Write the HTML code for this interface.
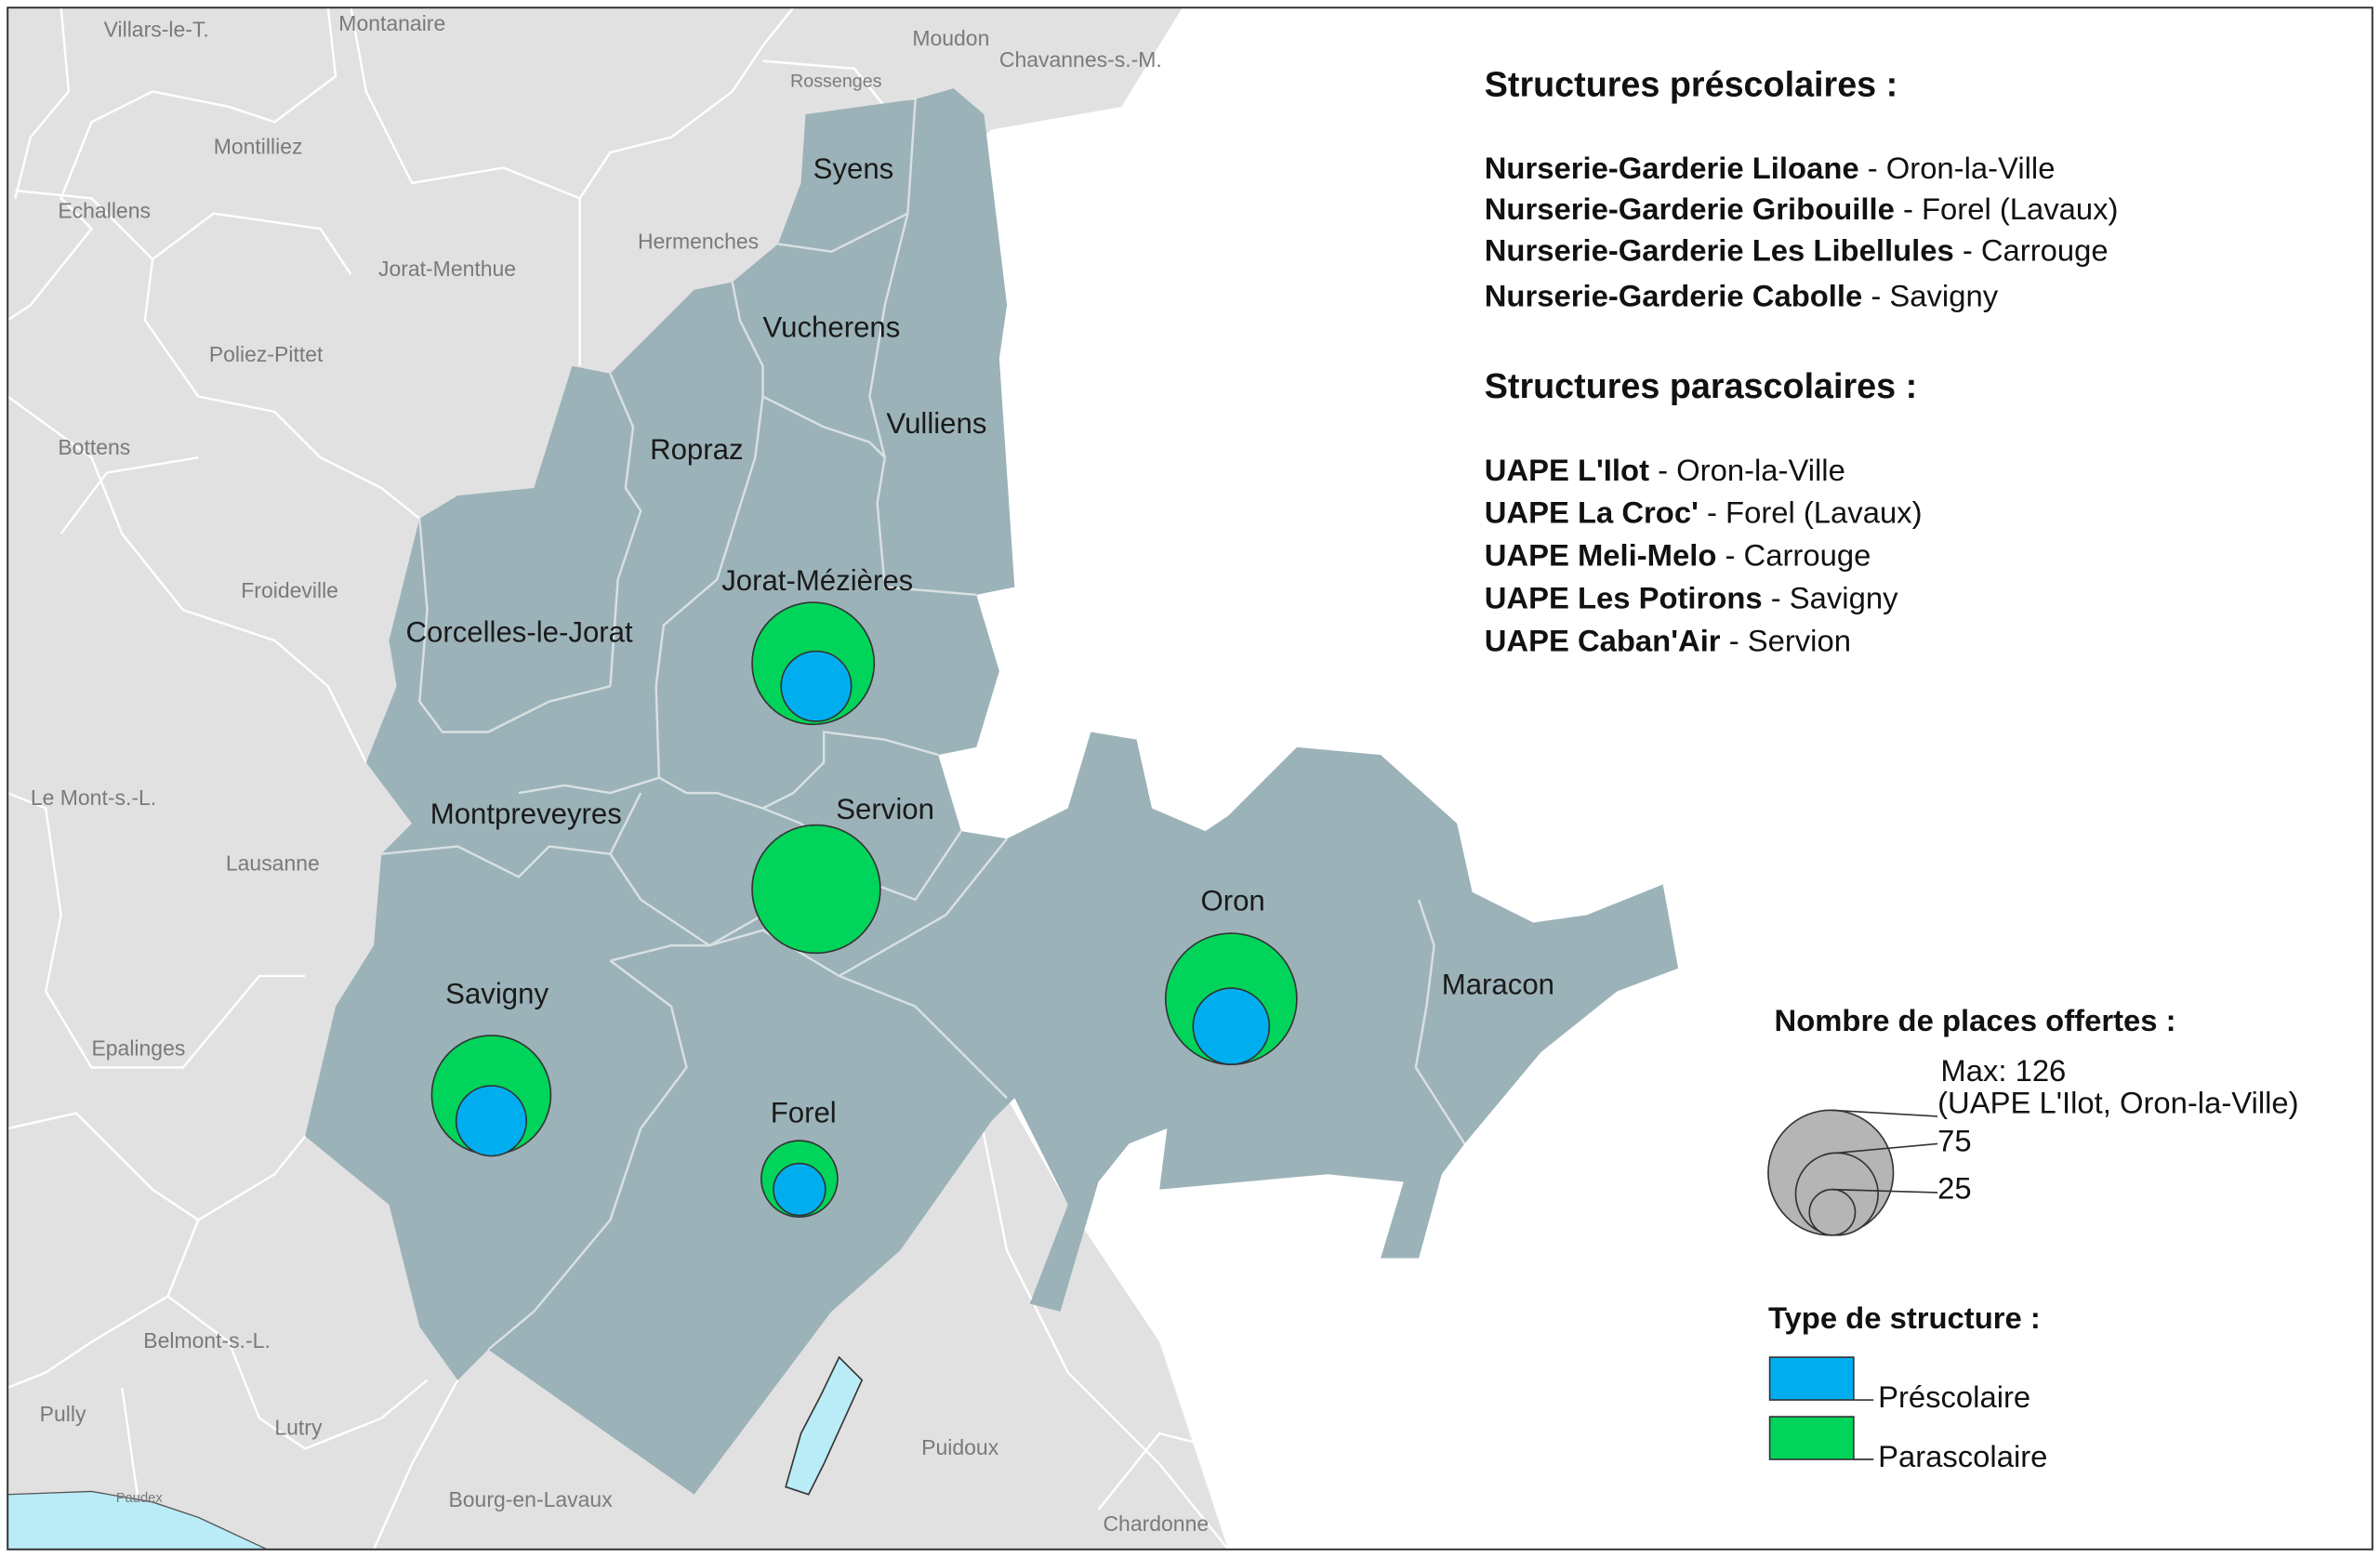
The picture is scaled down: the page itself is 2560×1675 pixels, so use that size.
<!DOCTYPE html>
<html><head><meta charset="utf-8"><style>
html,body{margin:0;padding:0;background:#fff}
svg{display:block}
.g{font-family:"Liberation Sans",sans-serif;font-size:14px;fill:#7a7a7a}
.c{font-family:"Liberation Sans",sans-serif;font-size:19px;fill:#1a1a1a}
.h{font-family:"Liberation Sans",sans-serif;font-size:23px;font-weight:bold;fill:#111}
.t{font-family:"Liberation Sans",sans-serif;font-size:20px;fill:#111}
.b{font-weight:bold}
</style></head><body>
<svg width="2560" height="1675" viewBox="0 0 1560 1021" preserveAspectRatio="none" xmlns="http://www.w3.org/2000/svg">
<rect x="0" y="0" width="1560" height="1021" fill="#fff"/>
<!-- gray surroundings -->
<polygon points="5,5 775,5 735,70 650,85 620,110 600,400 600,700 660,720 700,790 760,880 805,1016 5,1016" fill="#e1e1e1"/>
<g fill="none" stroke="#fff" stroke-width="1.5">
<polyline points="40,5 45,60 20,90 10,130"/>
<polyline points="215,5 220,50 180,80 150,70 100,60 60,80 40,130 60,150 20,200 5,210"/>
<polyline points="10,125 60,130 100,170 140,140 210,150 230,180"/>
<polyline points="230,5 240,60 270,120 330,110 380,130 380,240"/>
<polyline points="100,170 95,210 130,260 180,270 210,300 250,320 275,340"/>
<polyline points="5,260 60,300 80,350 120,400 180,420 215,450 240,500"/>
<polyline points="40,350 70,310 130,300"/>
<polyline points="380,130 400,100 440,90 480,60 500,30 520,5"/>
<polyline points="500,40 560,45 580,70 600,65"/>
<polyline points="5,520 30,530 40,600 30,650 60,700 120,700 170,640 200,640"/>
<polyline points="5,740 50,730 100,780 130,800 180,770 200,745"/>
<polyline points="130,800 110,850 60,880 30,900 5,910"/>
<polyline points="110,850 150,880 170,930 200,950 250,930 280,905"/>
<polyline points="80,910 90,980"/>
<polyline points="640,720 660,820 700,900 760,960 805,1016"/>
<polyline points="720,990 760,940 800,950"/>
<polyline points="245,1016 270,960 300,905"/>
</g>
<!-- study area -->
<polygon points="528,75 600,65 625,58 645,75 660,200 655,235 665,385 640,390 655,440 640,490 615,495 630,545 660,550 700,530 715,480 745,485 755,530 790,545 805,535 850,490 905,495 955,540 965,585 1005,605 1040,600 1090,580 1100,635 1060,650 1010,690 960,750 945,770 930,825 905,825 920,775 870,770 760,780 765,740 740,750 720,775 695,860 675,855 700,790 665,720 650,735 590,820 545,860 455,980 320,885 300,905 275,870 255,790 200,745 220,660 245,620 250,560 270,540 240,500 260,450 255,420 275,340 300,325 350,320 375,240 400,245 455,190 480,185 510,160 525,120" fill="#9bb2b8"/>
<g fill="none" stroke="#d8e0e2" stroke-width="1.5">
<polyline points="600,65 595,140 580,200 570,260 580,300 575,330 580,385 640,390"/>
<polyline points="510,160 545,165 575,150 595,140"/>
<polyline points="480,185 485,210 500,240 500,260"/>
<polyline points="500,260 540,280 570,290 580,300"/>
<polyline points="400,245 415,280 410,320 420,335 405,380 400,450"/>
<polyline points="500,260 495,300 470,380 435,410 430,450 432,510 400,520 370,515 340,520"/>
<polyline points="275,340 280,400 275,460 290,480 320,480 360,460 400,450"/>
<polyline points="432,510 450,520 470,520 500,530 520,520 540,500 540,480 580,485 615,495"/>
<polyline points="500,530 525,540 560,575 600,590 630,545"/>
<polyline points="250,560 300,555 340,575 360,555 400,560 420,590 465,620 500,600"/>
<polyline points="400,560 420,520"/>
<polyline points="465,620 500,610 550,640 600,660 660,720"/>
<polyline points="400,630 440,620 465,620"/>
<polyline points="400,630 440,660 450,700 420,740 400,800 350,860 320,885"/>
<polyline points="930,590 940,620 935,660 928,700 960,750"/>
<polyline points="550,640 620,600 660,550"/>
</g>
<!-- lakes -->
<polygon points="5,980 60,978 100,985 130,995 175,1016 5,1016" fill="#b9ecf7" stroke="#555" stroke-width="0.8"/>
<polygon points="550,890 565,905 540,960 530,980 515,975 525,940 538,915" fill="#b9ecf7" stroke="#333" stroke-width="1"/>
<!-- gray labels -->
<g class="g">
<text x="68" y="24">Villars-le-T.</text><text x="222" y="20">Montanaire</text>
<text x="598" y="30">Moudon</text><text x="655" y="44">Chavannes-s.-M.</text>
<text x="518" y="57" font-size="12">Rossenges</text>
<text x="140" y="101">Montilliez</text><text x="38" y="143">Echallens</text>
<text x="248" y="181">Jorat-Menthue</text><text x="418" y="163">Hermenches</text>
<text x="137" y="237">Poliez-Pittet</text><text x="38" y="298">Bottens</text>
<text x="158" y="392">Froideville</text><text x="20" y="528">Le Mont-s.-L.</text>
<text x="148" y="571">Lausanne</text><text x="60" y="692">Epalinges</text>
<text x="94" y="884">Belmont-s.-L.</text><text x="26" y="932">Pully</text>
<text x="180" y="941">Lutry</text><text x="294" y="988">Bourg-en-Lavaux</text>
<text x="604" y="954">Puidoux</text><text x="723" y="1004">Chardonne</text>
<text x="76" y="985" font-size="9">Paudex</text>
</g>
<!-- commune labels -->
<g class="c">
<text x="533" y="117">Syens</text><text x="500" y="221">Vucherens</text>
<text x="581" y="284">Vulliens</text><text x="426" y="301">Ropraz</text>
<text x="473" y="387">Jorat-Mézières</text><text x="266" y="421">Corcelles-le-Jorat</text>
<text x="282" y="540">Montpreveyres</text><text x="548" y="537">Servion</text>
<text x="787" y="597">Oron</text><text x="945" y="652">Maracon</text>
<text x="292" y="658">Savigny</text><text x="505" y="736">Forel</text>
</g>
<!-- circles -->
<g stroke="#333" stroke-width="1">
<circle cx="533" cy="435" r="40" fill="#00d45a"/><circle cx="535" cy="450" r="23" fill="#00aeef"/>
<circle cx="535" cy="583" r="42" fill="#00d45a"/>
<circle cx="807" cy="655" r="43" fill="#00d45a"/><circle cx="807" cy="673" r="25" fill="#00aeef"/>
<circle cx="322" cy="718" r="39" fill="#00d45a"/><circle cx="322" cy="735" r="23" fill="#00aeef"/>
<circle cx="524" cy="773" r="25" fill="#00d45a"/><circle cx="524" cy="780" r="17" fill="#00aeef"/>
</g>
<!-- legend text -->
<text class="h" x="973" y="63">Structures préscolaires :</text>
<text class="t" x="973" y="117"><tspan class="b">Nurserie-Garderie Liloane</tspan> - Oron-la-Ville</text>
<text class="t" x="973" y="144"><tspan class="b">Nurserie-Garderie Gribouille</tspan> - Forel (Lavaux)</text>
<text class="t" x="973" y="171"><tspan class="b">Nurserie-Garderie Les Libellules</tspan> - Carrouge</text>
<text class="t" x="973" y="201"><tspan class="b">Nurserie-Garderie Cabolle</tspan> - Savigny</text>
<text class="h" x="973" y="261">Structures parascolaires :</text>
<text class="t" x="973" y="315"><tspan class="b">UAPE L'Ilot</tspan> - Oron-la-Ville</text>
<text class="t" x="973" y="343"><tspan class="b">UAPE La Croc'</tspan> - Forel (Lavaux)</text>
<text class="t" x="973" y="371"><tspan class="b">UAPE Meli-Melo</tspan> - Carrouge</text>
<text class="t" x="973" y="399"><tspan class="b">UAPE Les Potirons</tspan> - Savigny</text>
<text class="t" x="973" y="427"><tspan class="b">UAPE Caban'Air</tspan> - Servion</text>
<text class="t b" x="1163" y="676">Nombre de places offertes :</text>
<text class="t" x="1272" y="709" font-size="18">Max: 126</text>
<text class="t" x="1270" y="730" font-size="15">(UAPE L'Ilot, Oron-la-Ville)</text>
<g stroke="#333" stroke-width="1">
<circle cx="1200" cy="769" r="41" fill="#b5b5b5"/>
<circle cx="1204" cy="783" r="27" fill="#b5b5b5"/>
<circle cx="1201" cy="795" r="15" fill="#b5b5b5"/>
<line x1="1200" y1="728" x2="1270" y2="732"/>
<line x1="1204" y1="756" x2="1270" y2="750"/>
<line x1="1201" y1="780" x2="1270" y2="782"/>
</g>
<text class="t" x="1270" y="755" font-size="18">75</text>
<text class="t" x="1270" y="786" font-size="18">25</text>
<text class="t b" x="1159" y="871">Type de structure :</text>
<rect x="1160" y="890" width="55" height="28" fill="#00aeef" stroke="#333"/>
<rect x="1160" y="929" width="55" height="28" fill="#00d45a" stroke="#333"/>
<line x1="1215" y1="918" x2="1228" y2="918" stroke="#333"/>
<line x1="1215" y1="957" x2="1228" y2="957" stroke="#333"/>
<text class="t" x="1231" y="923">Préscolaire</text>
<text class="t" x="1231" y="962">Parascolaire</text>
<rect x="5" y="5" width="1550" height="1011" fill="none" stroke="#333" stroke-width="1.2"/>
</svg>
</body></html>
